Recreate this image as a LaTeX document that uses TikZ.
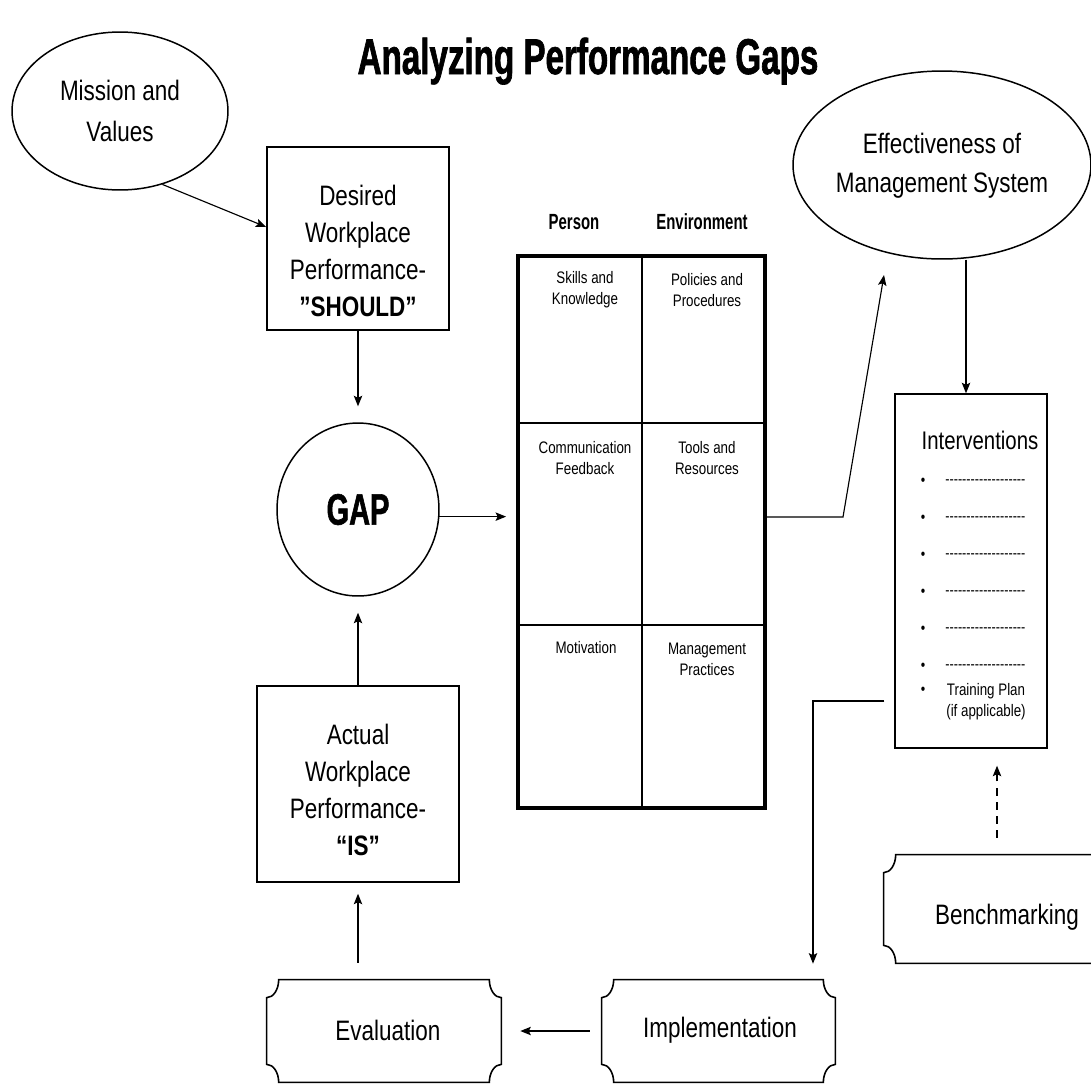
\documentclass[tikz,border=0pt]{standalone}
\usepackage{fontspec}
\setmainfont[FakeStretch=0.8]{Liberation Sans}
\newfontfamily\condfont[FakeStretch=0.68]{Liberation Sans}
\newfontfamily\blackfont[FakeStretch=0.66, BoldFeatures={FakeBold=1.3}]{Liberation Sans}
\newfontfamily\dashfont[FakeStretch=0.8]{Liberation Sans}
\usetikzlibrary{arrows.meta,calc,shapes.geometric}
\def\tkrx{0.24cm}
\def\tkry{0.36cm}
\newcommand\ticketdraw[1]{%
  \draw[line width=0.9pt] ($(#1.north west)+(\tkrx,0)$) -- ($(#1.north east)+(-\tkrx,0)$)
    arc[start angle=180,end angle=270,x radius=\tkrx,y radius=\tkry]
    -- ($(#1.south east)+(0,\tkry)$)
    arc[start angle=90,end angle=180,x radius=\tkrx,y radius=\tkry]
    -- ($(#1.south west)+(\tkrx,0)$)
    arc[start angle=0,end angle=90,x radius=\tkrx,y radius=\tkry]
    -- ($(#1.north west)+(0,-\tkry)$)
    arc[start angle=270,end angle=360,x radius=\tkrx,y radius=\tkry]
    -- cycle;}
\begin{document}
\begin{tikzpicture}[x=0.02cm,y=-0.02cm,
  conn/.style={-{Stealth[length=6pt,width=4.8pt,inset=1.2pt]}, line width=0.65pt},
  boxnode/.style={draw, line width=0.85pt, rectangle, inner sep=0pt},
  ellnode/.style={draw, line width=0.85pt, ellipse, inner sep=0pt},
  ticket/.style={rectangle, inner sep=0pt},
  bigtxt/.style={font=\fontsize{16}{21}\selectfont, align=center, inner sep=0pt},
  celltxt/.style={font=\fontsize{9.5}{12}\selectfont, align=center, inner sep=0pt},
  headtxt/.style={font=\condfont\bfseries\fontsize{12.5}{14}\selectfont, inner sep=0pt},
  bul/.style={font=\fontsize{9}{10}\selectfont, inner sep=0pt},
  dashrow/.style={font=\dashfont\fontsize{9}{10}\selectfont, inner sep=0pt, anchor=west},
]
\useasboundingbox (0,0) rectangle (1091,1086);
\clip (0,0) rectangle (1091,1086);

% title
\node[font=\blackfont\bfseries\fontsize{28.6}{32}\selectfont, anchor=base, inner sep=0pt] (title) at (588,74) {Analyzing Performance Gaps};

% left column
\node[ellnode, minimum width=4.32cm, minimum height=3.16cm, align=center, font=\fontsize{16}{23}\selectfont] (mission) at (120,111) {Mission and\\Values};
\node[boxnode, minimum width=3.64cm, minimum height=3.66cm] (desired) at (358,238.5) {};
\node[bigtxt] (desiredtxt) at (358,251) {Desired\\Workplace\\Performance-\\{\bfseries ”SHOULD”}};
\node[ellnode, minimum width=3.24cm, minimum height=3.46cm, font=\blackfont\bfseries\fontsize{25}{28}\selectfont] (gap) at (358,509.5) {GAP};
\node[boxnode, minimum width=4.04cm, minimum height=3.92cm] (actual) at (358,784) {};
\node[bigtxt] (actualtxt) at (358,790) {Actual\\Workplace\\Performance-\\{\bfseries “IS”}};

% bottom tickets
\node[ticket, minimum width=4.68cm, minimum height=2.04cm] (eval) at (384,1031) {};
\ticketdraw{eval}
\node[bigtxt] (evaltxt) at (388,1030) {Evaluation};
\node[ticket, minimum width=4.66cm, minimum height=2.04cm] (impl) at (718.5,1031) {};
\ticketdraw{impl}
\node[bigtxt] (impltxt) at (720,1030) {Implementation};
\node[ticket, minimum width=4.92cm, minimum height=2.16cm] (bench) at (1007,909) {};
\ticketdraw{bench}
\node[bigtxt] (benchtxt) at (1007,917) {Benchmarking};

% grid
\node[headtxt] (person) at (574,222) {Person};
\node[headtxt] (envir) at (702,222) {Environment};
\node[draw, line width=2.2pt, rectangle, inner sep=0pt, minimum width=4.94cm, minimum height=11.04cm] (grid) at (641.5,532) {};
\coordinate (gm) at (642,423);
\coordinate (gm2) at (642,625);
\draw[line width=0.8pt] (grid.north -| gm) -- (grid.south -| gm);
\draw[line width=1.3pt] (grid.west |- gm) -- (grid.east |- gm);
\draw[line width=1.3pt] (grid.west |- gm2) -- (grid.east |- gm2);
\node[celltxt] (c11) at (585,290) {Skills and\\Knowledge};
\node[celltxt] (c12) at (707,290) {Policies and\\Procedures};
\node[celltxt] (c21) at (585,458) {Communication\\Feedback};
\node[celltxt] (c22) at (707,458) {Tools and\\Resources};
\node[celltxt] (c31) at (586,648) {Motivation};
\node[celltxt] (c32) at (707,659) {Management\\Practices};

% right column
\node[ellnode, minimum width=5.96cm, minimum height=3.76cm] (eff) at (942,165) {};
\node[bigtxt, font=\fontsize{16}{22}\selectfont] (efftxt) at (942,166) {Effectiveness of\\Management System};
\node[boxnode, minimum width=3.04cm, minimum height=7.08cm] (interv) at (971,571) {};
\node[font=\fontsize{14.5}{16}\selectfont, inner sep=0pt] (intitle) at (980,440) {Interventions};
\foreach \yy [count=\i] in {482,519,556,593,630,667} {
  \node[bul] (b\i) at (923,\yy) {•};
  \node[dashrow] (d\i) at (945,\yy) {-------------------};
}
\node[bul] (b7) at (923,691) {•};
\node[celltxt] (tplan) at (986,702) {Training Plan\\(if applicable)};

% connectors
\draw[conn] (mission.-60) -- ($(desired.west)+(0,-11.5)$);
\draw[conn, shorten >=0.32cm] (desired.south) -- (gap.north);
\draw[conn, shorten >=0.32cm] (actual.north) -- (gap.south);
\draw[conn, shorten <=0.34cm, shorten >=0.22cm] (actual.south |- eval.north) -- (actual.south);
\draw[conn, shorten <=0.24cm, shorten >=0.38cm] (impl.west) -- (eval.east);
\draw[conn, shorten >=0.2cm] (gap.-5) -- (gap.-5 -| grid.west);
\coordinate (k1) at (843,517);
\coordinate (k2) at (884,275);
\draw[conn] (grid.east |- k1) -- (k1) -- (k2);
\coordinate (k3) at (966,0);
\draw[conn] (eff.south -| k3) -- (interv.north -| k3);
\coordinate (k4) at (813,701);
\draw[conn, shorten <=0.2cm, shorten >=0.32cm] (interv.west |- k4) -- (k4) -- (k4 |- impl.north);
\coordinate (k5) at (997,0);
\draw[conn, dash pattern=on 4.5pt off 3.5pt, shorten <=0.34cm, shorten >=0.34cm] (bench.north -| k5) -- (interv.south -| k5);
\end{tikzpicture}
\end{document}
